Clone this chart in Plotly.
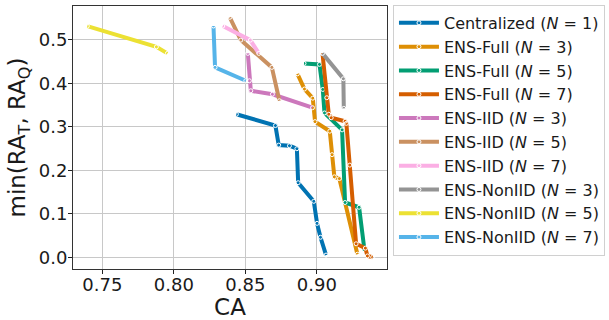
import plotly.graph_objects as go

names = [
    "Centralized (<i>N</i> = 1)",
    "ENS-Full (<i>N</i> = 3)",
    "ENS-Full (<i>N</i> = 5)",
    "ENS-Full (<i>N</i> = 7)",
    "ENS-IID (<i>N</i> = 3)",
    "ENS-IID (<i>N</i> = 5)",
    "ENS-IID (<i>N</i> = 7)",
    "ENS-NonIID (<i>N</i> = 3)",
    "ENS-NonIID (<i>N</i> = 5)",
    "ENS-NonIID (<i>N</i> = 7)",
]
colors = ["#0173B2", "#DE8F05", "#029E73", "#D55E00", "#CC78BC",
          "#CA9161", "#FBAFE4", "#949494", "#ECE133", "#56B4E9"]

central_x = [0.8437, 0.871, 0.8733, 0.8808, 0.886, 0.8869, 0.8978, 0.9001, 0.9025, 0.9064]
central_y = [0.329, 0.303, 0.258, 0.2566, 0.2497, 0.1715, 0.1287, 0.078, 0.046, 0.005]

full3_x = [0.8864, 0.8913, 0.8971, 0.8987, 0.909, 0.9106, 0.9122, 0.9157, 0.9283]
full3_y = [0.422, 0.387, 0.366, 0.312, 0.290, 0.236, 0.185, 0.181, 0.007]

full5_x = [0.891, 0.9018, 0.9041, 0.9053, 0.9176, 0.9197, 0.9295, 0.9333]
full5_y = [0.446, 0.4437, 0.386, 0.332, 0.293, 0.126, 0.115, 0.015]

full7_x = [0.9039, 0.9069, 0.9083, 0.910, 0.9197, 0.9206, 0.923, 0.9274, 0.9339, 0.9353, 0.939]
full7_y = [0.469, 0.367, 0.329, 0.321, 0.313, 0.308, 0.212, 0.031, 0.021, 0.003, 0.0]

iid3_x = [0.8517, 0.8528, 0.8538, 0.8689, 0.8969]
iid3_y = [0.469, 0.406, 0.383, 0.375, 0.344]

iid5_x = [0.8391, 0.8468, 0.8685, 0.8738]
iid5_y = [0.552, 0.4995, 0.4368, 0.360]

iid7_x = [0.8342, 0.8535, 0.8594]
iid7_y = [0.532, 0.4995, 0.469]

non3_x = [0.9039, 0.9185, 0.9188]
non3_y = [0.469, 0.4106, 0.3425]

non5_x = [0.7395, 0.7878, 0.7955]
non5_y = [0.5317, 0.484, 0.469]

non7_x = [0.8277, 0.8288, 0.8503]
non7_y = [0.532, 0.4368, 0.406]

series = [
    (central_x, central_y), (full3_x, full3_y), (full5_x, full5_y), (full7_x, full7_y),
    (iid3_x, iid3_y), (iid5_x, iid5_y), (iid7_x, iid7_y),
    (non3_x, non3_y), (non5_x, non5_y), (non7_x, non7_y),
]

fig = go.Figure()
for name, color, (xs, ys) in zip(names, colors, series):
    fig.add_trace(go.Scatter(
        x=xs, y=ys, name=name, mode="lines+markers",
        line=dict(color=color, width=4),
        marker=dict(symbol="circle-open", color="white", size=4, line=dict(width=1, color="white")),
    ))

font = "DejaVu Sans, Arial, sans-serif"
fig.update_layout(
    width=609, height=320,
    margin=dict(l=73, r=222, t=6, b=51, autoexpand=False),
    paper_bgcolor="white", plot_bgcolor="white",
    font=dict(family=font, color="#1a1a1a"),
    showlegend=True,
    legend=dict(
        x=1.019, xanchor="left", y=1.004, yanchor="top",
        font=dict(size=16, family=font),
        bordercolor="#d0d0d0", borderwidth=1,
        tracegroupgap=0, itemwidth=40, maxheight=1.0,
    ),
    xaxis=dict(
        range=[0.7295, 0.949], automargin=False,
        tickvals=[0.75, 0.80, 0.85, 0.90],
        ticktext=["0.75", "0.80", "0.85", "0.90"],
        tickfont=dict(size=18), ticks="outside", ticklen=4, tickcolor="#222",
        ticklabelstandoff=-5,
        showgrid=True, gridcolor="#c8c8c8", gridwidth=1,
        showline=True, linecolor="#333", linewidth=1, mirror=True,
        zeroline=False,
        title=dict(text="CA", font=dict(size=23), standoff=2),
    ),
    yaxis=dict(
        range=[-0.027, 0.578], automargin=False,
        tickvals=[0.0, 0.1, 0.2, 0.3, 0.4, 0.5],
        ticktext=["0.0", "0.1", "0.2", "0.3", "0.4", "0.5"],
        tickfont=dict(size=18), ticks="outside", ticklen=4, tickcolor="#222",
        ticklabelstandoff=-3,
        showgrid=True, gridcolor="#c8c8c8", gridwidth=1,
        showline=True, linecolor="#333", linewidth=1, mirror=True,
        zeroline=False,
        title=dict(text="min(RA<sub>T</sub>, RA<sub>Q</sub>)", font=dict(size=23), standoff=6),
    ),
)

fig.write_html("out.html", config={"displayModeBar": False},
               post_script="document.body.style.margin='0';")
